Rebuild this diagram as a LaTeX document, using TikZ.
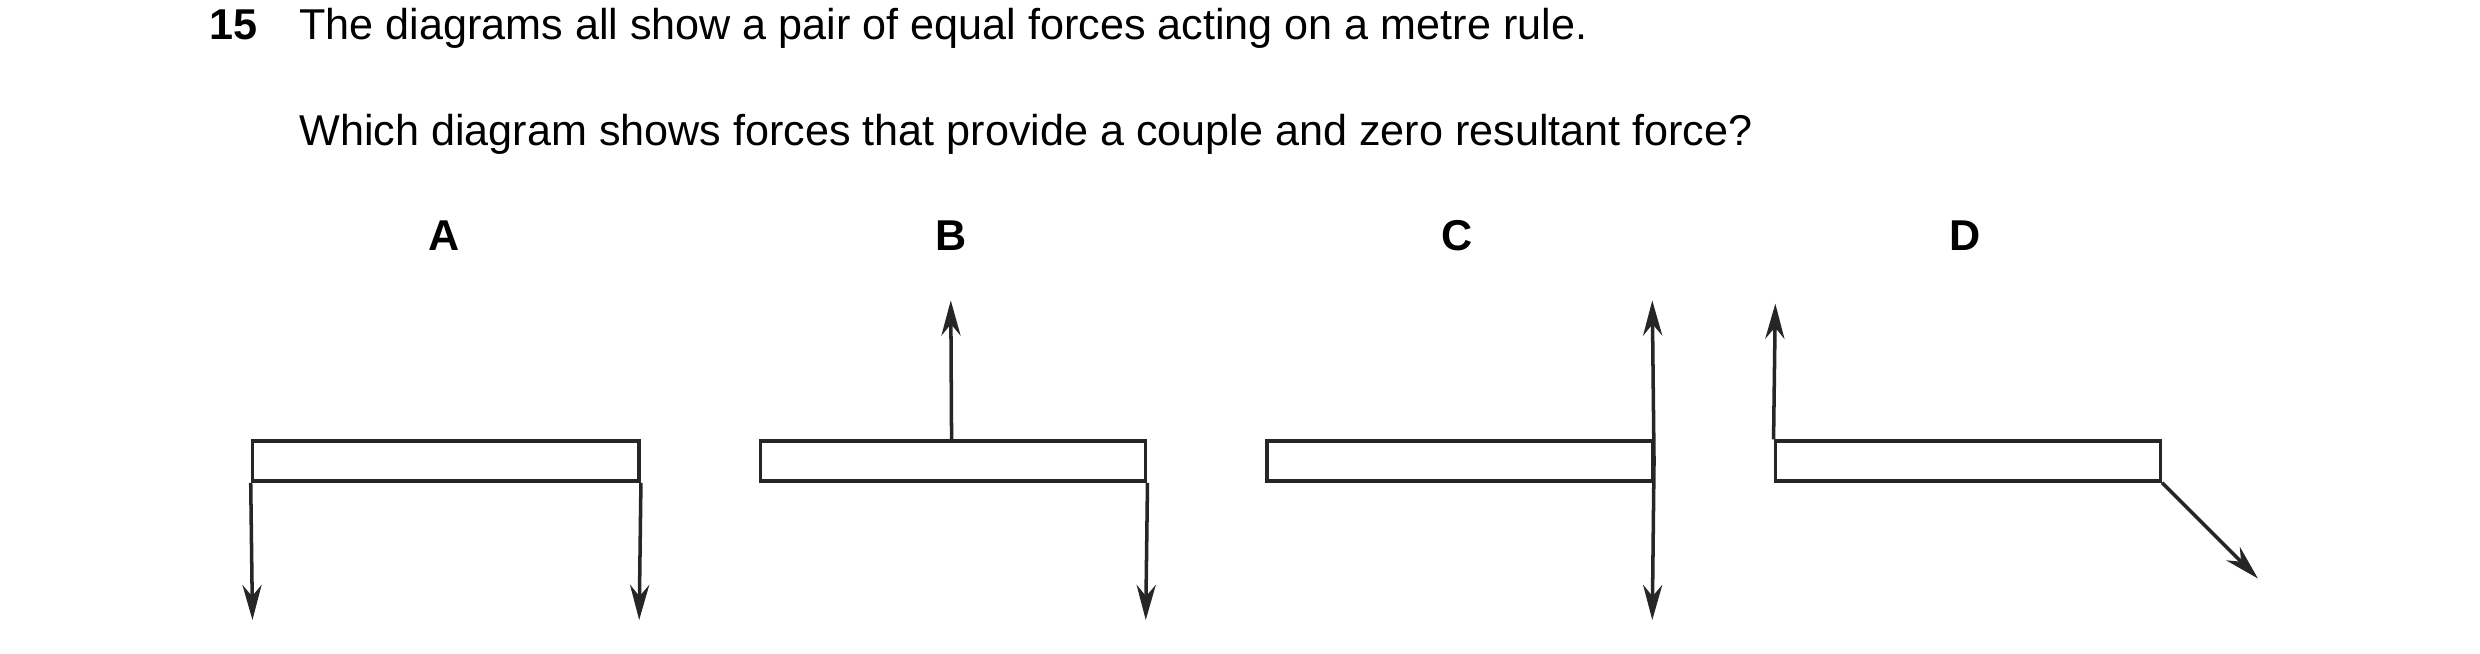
\documentclass[tikz,border=0pt]{standalone}
\usepackage{fontspec}
\setmainfont{Liberation Sans}
\usetikzlibrary{arrows.meta}
\begin{document}
\begin{tikzpicture}[x=0.5pt,y=-0.5pt,
  rule/.style={draw=black!85,line width=1.1pt},
  force/.style={draw=black!85,line width=1.1pt,-{Stealth[length=11pt,width=6pt]}},
  txt/.style={anchor=base west,inner sep=0pt,font=\fontsize{13.5}{16}\selectfont},
  lab/.style={anchor=base,inner sep=0pt,font=\fontsize{13.5}{16}\selectfont\bfseries}]
\useasboundingbox (0,0) rectangle (1552,409);
\node[txt,font=\fontsize{13.5}{16}\selectfont\bfseries] (n) at (131,25) {15};
\node[txt] (t1) at (187,25) {The diagrams all show a pair of equal forces acting on a metre rule.};
\node[txt] (t2) at (187,91) {Which diagram shows forces that provide a couple and zero resultant force?};
\node[lab] (la) at (278,157) {A};
\node[lab] (lb) at (595,157) {B};
\node[lab] (lc) at (912,157) {C};
\node[lab] (ld) at (1230,157) {D};
% A
\node[rule,rectangle,minimum width=121pt,minimum height=12.5pt,inner sep=0pt] (ra) at (279,288.5) {};
\draw[force] (ra.south west) -- (158,388);
\draw[force] (ra.south east) -- (400,388);
% B
\node[rule,rectangle,minimum width=120.5pt,minimum height=12.5pt,inner sep=0pt] (rb) at (596.5,288.5) {};
\draw[force] (rb.north) ++(-1,0) coordinate (bt) -- (595,188);
\draw[force] (rb.south east) -- (717,388);
% C
\node[rule,rectangle,minimum width=120.5pt,minimum height=12.5pt,inner sep=0pt] (rc) at (913.5,288.5) {};
\coordinate (cm) at (rc.east);
\draw[force] (cm) -- (1034,188);
\draw[force] (cm) -- (1034,388);
% D
\node[rule,rectangle,minimum width=120.5pt,minimum height=12.5pt,inner sep=0pt] (rd) at (1231.5,288.5) {};
\draw[force] (rd.north west) -- (1111,190);
\draw[force] (rd.south east) -- (1413,362);
\end{tikzpicture}
\end{document}
